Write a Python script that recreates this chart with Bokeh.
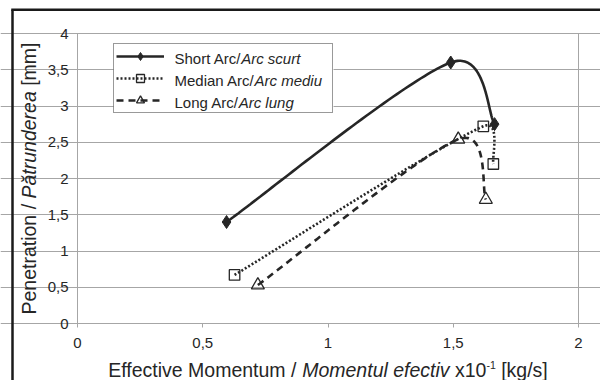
import numpy as np
from bokeh.plotting import figure
from bokeh.core.properties import value
from bokeh.models import (BoxAnnotation, Legend, LegendItem, FixedTicker, Grid,
                          Range1d, CustomJSTickFormatter)
from bokeh.embed import file_html
from bokeh.resources import INLINE

# ---------------- data ----------------
short_x = [0.595, 1.49, 1.665]
short_y = [1.40, 3.60, 2.75]
median_x = [0.627, 1.62, 1.66]
median_y = [0.67, 2.72, 2.20]
long_x = [0.72, 1.52, 1.63]
long_y = [0.53, 2.54, 1.71]

legend_normal = ["Short Arc/", "Median Arc/", "Long Arc/"]
legend_italic = ["Arc scurt", "Arc mediu", "Arc lung"]
x_ticks = [0, 0.5, 1, 1.5, 2]
y_ticks = [0, 0.5, 1, 1.5, 2, 2.5, 3, 3.5, 4]
x_title = [("Effective Momentum / ", "normal"), ("Momentul efectiv", "italic"),
           (" x10", "normal"), ("-1", "sup"), (" [kg/s]", "normal")]
y_title = [("Penetration / ", "normal"), ("Pătrunderea", "italic"), (" [mm]", "normal")]

# ---------------- layout constants (pixels) ----------------
W, H = 600, 380
PL, PR, PT, PB = 77, 578, 33, 323      # plot-area edges on the canvas
XMAX, YMAX = 2.0, 4.0
kx, ky = (PR - PL) / XMAX, (PB - PT) / YMAX
FONT = "Liberation Sans"
TXT = "#262626"
INK = "#262626"
GRID = "#a6a6a6"

# Arial-compatible advance widths (per 1000 em)
AW = {' ': 278, '/': 278, 'S': 667, 'h': 556, 'o': 556, 'r': 333, 't': 278, 'A': 667,
      'c': 500, 'M': 833, 'e': 556, 'd': 556, 'i': 222, 'a': 556, 'n': 556, 'L': 556,
      'g': 556, 'E': 667, 'f': 278, 'v': 500, 'm': 833, 'u': 556, 'x': 500, '1': 556,
      '0': 556, 'P': 667, 'ă': 556, '[': 278, ']': 278, 'k': 500, 's': 500, 'l': 222,
      '-': 333}


def tw(s, size):
    return sum(AW.get(ch, 556) for ch in s) / 1000.0 * size


def dx(px):  # canvas px -> data x
    return (px - PL) / kx


def dy(py):  # canvas px -> data y
    return (PB - py) / ky


def excel_smooth(xs, ys, n=60):
    P = np.column_stack([np.asarray(xs, float) * kx, np.asarray(ys, float) * ky])
    m = len(P)
    pts = [P[0]]
    for i in range(m - 1):
        p0 = P[i - 1] if i > 0 else P[i]
        p1, p2 = P[i], P[i + 1]
        p3 = P[i + 2] if i + 2 < m else P[i + 1]
        d12 = np.linalg.norm(p2 - p1)
        d02 = np.linalg.norm(p2 - p0)
        d13 = np.linalg.norm(p3 - p1)
        f1 = 1 / 6 if d02 == 0 else min(1 / 6, d12 / (2 * d02))
        f2 = 1 / 6 if d13 == 0 else min(1 / 6, d12 / (2 * d13))
        c1 = p1 + f1 * (p2 - p0)
        c2 = p2 - f2 * (p3 - p1)
        t = np.linspace(0, 1, n)[1:, None]
        b = ((1 - t) ** 3) * p1 + 3 * ((1 - t) ** 2) * t * c1 + 3 * (1 - t) * t ** 2 * c2 + t ** 3 * p2
        pts.extend(b)
    pts = np.array(pts)
    return pts[:, 0] / kx, pts[:, 1] / ky


# the frame fills the canvas; axes are pinned at x=0 / y=0
p = figure(width=W, height=H, x_range=Range1d(dx(0), dx(W)), y_range=Range1d(dy(H), dy(0)),
           output_backend="svg", toolbar_location=None,
           min_border_left=0, min_border_right=0, min_border_top=0, min_border_bottom=0,
           background_fill_color="white", border_fill_color="white")
p.outline_line_color = None

fmt = CustomJSTickFormatter(code="return tick.toString().replace('.', ',');")
p.xaxis.ticker = FixedTicker(ticks=x_ticks)
p.yaxis.ticker = FixedTicker(ticks=y_ticks)
p.xaxis.fixed_location = 0
p.yaxis.fixed_location = 0
p.xaxis.bounds = (0, XMAX)
p.yaxis.bounds = (0, YMAX)
for ax in (p.xaxis, p.yaxis):
    ax.formatter = fmt
    ax.axis_line_color = GRID
    ax.major_tick_line_color = GRID
    ax.minor_tick_line_color = None
    ax.major_tick_in = 0
    ax.major_tick_out = 4
    ax.major_label_text_font = FONT
    ax.major_label_text_font_size = "15px"
    ax.major_label_text_color = TXT
p.xaxis.major_label_standoff = 10
p.yaxis.major_label_standoff = 5

p.xgrid.visible = False
p.ygrid.grid_line_color = GRID
p.ygrid.grid_line_width = 1
p.ygrid.bounds = (0, XMAX)
# right edge of the plot area
p.add_layout(Grid(dimension=0, ticker=FixedTicker(ticks=[XMAX]), bounds=(0, XMAX),
                  cross_bounds=(0, YMAX), grid_line_color=GRID, grid_line_width=1))

# white legend panel below the glyphs, above the grid
p.add_layout(BoxAnnotation(left=dx(113), right=dx(333), top=dy(44), bottom=dy(113),
                           fill_color="white", fill_alpha=1, line_alpha=0, level="underlay"))

# outer chart border (left and top edges), kept inside the canvas
p.segment(x0=[dx(12), dx(10.75)], y0=[dy(H), dy(9.25)],
          x1=[dx(12), dx(W)], y1=[dy(9.25), dy(9.25)],
          line_color="#1a1a1a", line_width=2.5)

# Short arc
sx, sy = excel_smooth(short_x, short_y)
l1 = p.line(sx, sy, line_color=INK, line_width=2.6)
m1 = p.scatter(short_x, short_y, marker="diamond", size=13,
               fill_color=INK, line_color=INK, line_width=1)
# Median arc
mx, my = excel_smooth(median_x, median_y)
l2 = p.line(mx, my, line_color=INK, line_width=2.6, line_dash="2 2")
m2 = p.scatter(median_x, median_y, marker="square", size=10.5,
               fill_alpha=0, line_color=INK, line_width=1.3)
# Long arc
gx, gy = excel_smooth(long_x, long_y)
l3 = p.line(gx, gy, line_color=INK, line_width=2.6, line_dash="7 5")
m3 = p.scatter(long_x, long_y, marker="triangle", size=13,
               fill_alpha=0, line_color=INK, line_width=1.3)

legend = Legend(items=[LegendItem(label=" ", renderers=[l1, m1]),
                       LegendItem(label=" ", renderers=[l2, m2]),
                       LegendItem(label=" ", renderers=[l3, m3])],
                location=(113, H - 113), padding=2, spacing=2, margin=0,
                glyph_width=48, glyph_height=20, label_height=20, label_width=158,
                label_standoff=8, border_line_color="#333333", border_line_width=1,
                background_fill_alpha=0,
                label_text_font_size="15px", label_text_font=FONT)
p.add_layout(legend)


def txt(x, y, s, size, style="normal", angle=0.0):
    p.text(x=[x], y=[y], text=[s], angle=angle, text_font=value(FONT),
           text_font_size=value(f"{size}px"), text_font_style=value(style),
           text_color=TXT, text_baseline=value("middle"), text_align=value("left"))


# legend texts (normal + italic parts)
leg_x = 174
leg_rows = [57.5, 79.5, 101.5]
for nt, it, yy in zip(legend_normal, legend_italic, leg_rows):
    txt(dx(leg_x), dy(yy), nt, 15)
    txt(dx(leg_x + tw(nt, 15)), dy(yy), it, 15, style="italic")

# axis titles
TS = 19.5
SUP = 10.5


def part_width(s, kind):
    return tw(s, SUP if kind == "sup" else TS)


total = sum(part_width(s, k) for s, k in x_title)
cur = (PL + PR) / 2.0 - total / 2.0
mid = 369.5
for s, k in x_title:
    lead = len(s) - len(s.lstrip(" "))
    off = tw(" " * lead, TS)
    txt(dx(cur + off), dy(mid - (5.5 if k == "sup" else 0)), s.strip(" "),
        SUP if k == "sup" else TS, style="italic" if k == "italic" else "normal")
    cur += part_width(s, k)

total = sum(part_width(s, k) for s, k in y_title)
cur = (PT + PB) / 2.0 + total / 2.0
for s, k in y_title:
    lead = len(s) - len(s.lstrip(" "))
    off = tw(" " * lead, TS)
    txt(dx(28.5), dy(cur - off), s.strip(" "), TS,
        style="italic" if k == "italic" else "normal", angle=np.pi / 2)
    cur -= part_width(s, k)

open("out.html", "w").write(file_html(p, INLINE))
